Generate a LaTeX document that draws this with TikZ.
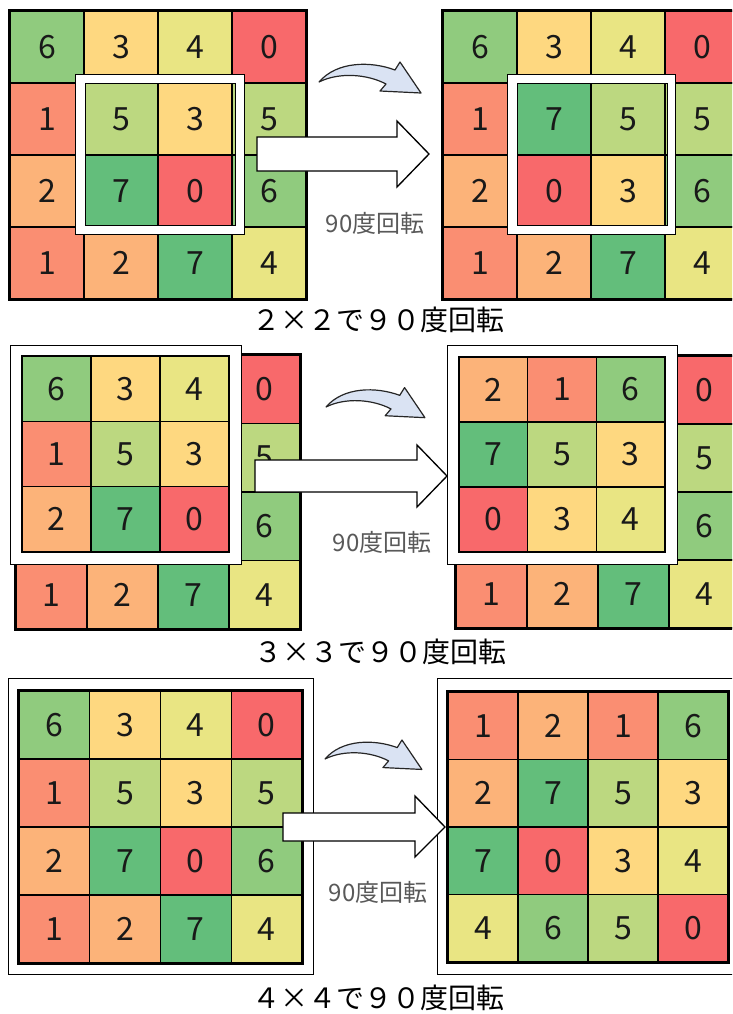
\documentclass[tikz,border=0pt]{standalone}
\usepackage{fontspec}
\setmainfont{Noto Sans CJK JP}
\usetikzlibrary{positioning}

% colour scale of the values 0..7, x = cell hidden under a frame
\definecolor{c0}{HTML}{F8696B}
\definecolor{c1}{HTML}{FA8E72}
\definecolor{c2}{HTML}{FCB379}
\definecolor{c3}{HTML}{FED880}
\definecolor{c4}{HTML}{E9E583}
\definecolor{c5}{HTML}{BCD880}
\definecolor{c6}{HTML}{90CB7E}
\definecolor{c7}{HTML}{63BE7B}
\definecolor{cx}{HTML}{FFFFFF}
\definecolor{turnblue}{HTML}{DAE3F3}
\definecolor{labelgray}{HTML}{595959}

\tikzset{
  cell/.style={draw=black, line width=1.1pt, inner sep=0pt, text=black!90,
    font=\fontsize{24}{24}\selectfont},
  gridedge/.style={draw=black, line width=2pt},
  ring/.style={draw=black, line width=0.75pt, fill=white, even odd rule},
  framebox/.style={draw=black, line width=0.75pt, fill=white},
  bigarrow/.style={draw=black, line width=1pt, fill=white, line join=miter},
  turn/.style={draw=black!85, line width=0.9pt, fill=turnblue, line join=round},
  rotlabel/.style={text=labelgray, font=\fontsize{18}{18}\selectfont},
  caption/.style={text=black, font=\fontsize{21}{21}\selectfont}
}

% grid of numbered cells: name, left, top, cell width, cell height, rows
\newcommand{\numgrid}[6]{%
  \foreach \row [count=\rw] in {#6} {
    \foreach \v [count=\col] in \row {
      \node[cell, fill=c\v, minimum width=#4*0.75pt, minimum height=#5*0.75pt]
        (#1-\rw-\col) at ({#2+(\col-0.5)*#4}, {#3+(\rw-0.5)*#5}) {\if x\v\else\v\fi};
    }
  }
}

% small curved arrow above the big one
\newcommand{\turnarrow}[3]{%
  \draw[turn, shift={(#1,#2)}, scale=#3] (0,0) .. controls (18,-21) and (52,-21) .. (76,-12)
    -- (81,-20) -- (102,11) -- (61,9) -- (67,2) .. controls (48,-8) and (20,-10) .. (0,0) -- cycle;
}

\begin{document}
\begin{tikzpicture}[x=0.75pt, y=-0.75pt]
    \useasboundingbox (0,0) rectangle (732,1014);
    \clip (0,0) rectangle (732,1014);

    % 2x2
    \numgrid{L1}{10}{11}{74}{72}{{6,3,4,0},{1,5,3,5},{2,7,0,6},{1,2,7,4}}
    \draw[gridedge] (L1-1-1.north west) rectangle (L1-4-4.south east);
    \draw[ring] (75,74) rectangle (244,234) (85,83) rectangle (235,225);
    \draw[bigarrow] (257,137) -- (397,137) -- (397,121) -- (429,154) -- (397,187) -- (397,171) -- (257,171) -- cycle;
    \numgrid{R1}{443}{11}{74}{72}{{6,3,4,0},{1,7,5,5},{2,0,3,6},{1,2,7,4}}
    \draw[gridedge] (R1-1-1.north west) rectangle (R1-4-4.south east);
    \draw[ring] (507,74) rectangle (675,234) (517,83) rectangle (667,225);
    \turnarrow{319}{82}{1}
    \node[rotlabel] (rot1) at (375,223) {90度回転};
    \node[caption] (cap1) at (378,320) {２×２で９０度回転};

    % 3x3
    \numgrid{L2}{16}{355}{71}{68.5}{{x,x,x,0},{x,x,x,5},{x,x,x,6},{1,2,7,4}}
    \draw[gridedge] (L2-1-1.north west) rectangle (L2-4-4.south east);
    \draw[framebox] (10,345) rectangle (241,564);
    \numgrid{O2}{22}{356}{69}{65.3}{{6,3,4},{1,5,3},{2,7,0}}
    \draw[bigarrow] (255,460) -- (417,460) -- (417,445) -- (447,476) -- (417,507) -- (417,492) -- (255,492) -- cycle;
    \numgrid{R2}{456}{356}{71}{68}{{x,x,x,0},{x,x,x,5},{x,x,x,6},{1,2,7,4}}
    \draw[gridedge] (R2-1-1.north west) rectangle (R2-4-4.south east);
    \draw[framebox] (447,345) rectangle (677,564);
    \numgrid{P2}{459}{357}{68.7}{65}{{2,1,6},{7,5,3},{0,3,4}}
    \turnarrow{326}{407}{0.97}
    \node[rotlabel] (rot2) at (382,542) {90度回転};
    \node[caption] (cap2) at (380,652) {３×３で９０度回転};

    % 4x4
    \draw[framebox] (8,678) rectangle (313,974);
    \numgrid{L3}{19}{691}{70.75}{68}{{6,3,4,0},{1,5,3,5},{2,7,0,6},{1,2,7,4}}
    \draw[gridedge, line width=2.4pt] (L3-1-1.north west) rectangle (L3-4-4.south east);
    \draw[framebox] (437,678) rectangle (745,974);
    \numgrid{R3}{448}{692}{70}{67.5}{{1,2,1,6},{2,7,5,3},{7,0,3,4},{4,6,5,0}}
    \draw[gridedge, line width=2.4pt] (R3-1-1.north west) rectangle (R3-4-4.south east);
    \draw[bigarrow] (283,813) -- (415,813) -- (415,796) -- (445,827) -- (415,857) -- (415,841) -- (283,841) -- cycle;
    \turnarrow{325}{759}{0.95}
    \node[rotlabel] (rot3) at (378,892) {90度回転};
    \node[caption] (cap3) at (378,998) {４×４で９０度回転};
\end{tikzpicture}
\end{document}
